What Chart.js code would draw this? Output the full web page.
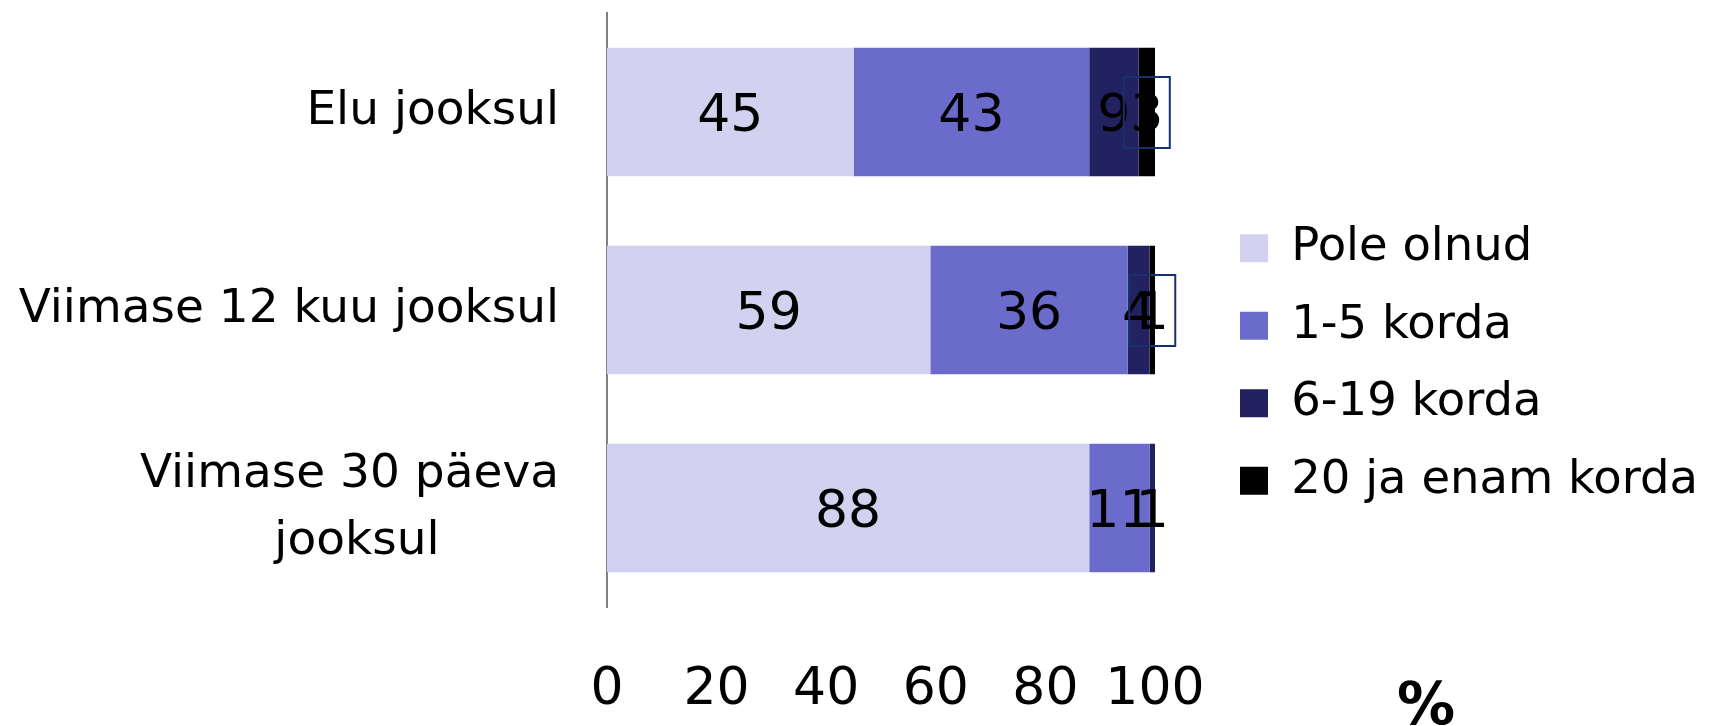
<!DOCTYPE html>
<html>
<head>
<meta charset="utf-8">
<script src="https://cdn.jsdelivr.net/npm/chart.js@4.4.1/dist/chart.umd.min.js"></script>
<style>
  html, body { margin: 0; padding: 0; background: #fff; }
  canvas { display: block; }
</style>
</head>
<body>
<canvas id="joonis" width="1709" height="726"></canvas>
<script>
// --- andmed ---
const kategooriad = ['Elu jooksul', 'Viimase 12 kuu jooksul', 'Viimase 30 päeva jooksul'];
const seeriaNimed = ['Pole olnud', '1-5 korda', '6-19 korda', '20 ja enam korda'];
const poleOlnud = [45, 59, 88];
const korda1_5 = [43, 36, 11];
const korda6_19 = [9, 4, 1];
const korda20 = [3, 1, 0];
const xTikid = [0, 20, 40, 60, 80, 100];

const varvid = ['#d2d2f0', '#6b6bcc', '#222260', '#000000'];
const FONT = '"DejaVu Sans", Verdana, sans-serif';

// pikk silt kahele reale, teine rida keskele (nbsp-ga nihutatud)
function tikiSilt(silt) {
    if (silt === 'Viimase 30 päeva jooksul') {
        return ['Viimase 30 päeva', 'jooksul' + '\u00a0'.repeat(8)];
    }
    return silt;
}

// legend paremale, vahega graafikust
const legendiPaigutus = {
    id: 'legendiPaigutus',
    beforeLayout(chart) {
        const lg = chart.legend;
        if (lg && !lg._parandatud) {
            const fit = lg.fit;
            lg.fit = function () { fit.call(this); this.width = 554; };
            lg._parandatud = true;
        }
    },
    afterLayout(chart) {
        if (chart.legend) chart.legend.left += 54;
    }
};

// väärtused ribade sisse
const vaartusSildid = {
    id: 'vaartusSildid',
    afterDatasetsDraw(chart) {
        const ctx = chart.ctx;
        ctx.save();
        ctx.font = '52px ' + FONT;
        ctx.fillStyle = '#000';
        ctx.textAlign = 'center';
        ctx.textBaseline = 'middle';
        chart.data.datasets.forEach((ds, i) => {
            const meta = chart.getDatasetMeta(i);
            meta.data.forEach((bar, j) => {
                const v = ds.data[j];
                if (!v) return;
                const cx = (bar.x + bar.base) / 2;
                ctx.fillText(String(v), cx, bar.y + 5);
                if (ds.raamiga) {
                    ctx.strokeStyle = '#17326b';
                    ctx.lineWidth = 2;
                    ctx.strokeRect(cx - 23, bar.y - 35, 46, 71);
                }
            });
        });
        ctx.restore();
    },
    afterDraw(chart) {
        const ctx = chart.ctx;
        ctx.save();
        ctx.font = 'bold 58px "Liberation Sans Narrow", ' + FONT;
        ctx.fillStyle = '#000';
        ctx.textAlign = 'center';
        ctx.textBaseline = 'alphabetic';
        ctx.fillText('%', 1426, 724);
        ctx.restore();
    }
};

const andmed = [poleOlnud, korda1_5, korda6_19, korda20];

new Chart(document.getElementById('joonis'), {
    type: 'bar',
    data: {
        labels: kategooriad,
        datasets: seeriaNimed.map((nimi, i) => ({
            label: nimi,
            data: andmed[i],
            backgroundColor: varvid[i],
            borderWidth: 0,
            barPercentage: 0.65,
            categoryPercentage: 1,
            raamiga: i === 3
        }))
    },
    options: {
        indexAxis: 'y',
        responsive: false,
        animation: false,
        layout: { padding: { top: 13, left: 0, right: 0, bottom: 10 } },
        scales: {
            x: {
                stacked: true,
                min: 0,
                max: 100,
                afterBuildTicks: s => { s.ticks = xTikid.map(v => ({ value: v })); },
                afterFit: s => { s.height = 109; },
                ticks: { color: '#000', padding: 52, font: { family: FONT, size: 52 } },
                grid: { display: false, drawTicks: false },
                border: { display: false }
            },
            y: {
                stacked: true,
                afterFit: s => { s.width = 607; s.paddingTop = 0; s.paddingBottom = 0; },
                ticks: {
                    color: '#000',
                    padding: 48,
                    font: { family: FONT, size: 47, lineHeight: 1.43 },
                    callback: function (value) { return tikiSilt(this.getLabelForValue(value)); }
                },
                grid: { display: false, drawTicks: false },
                border: { display: true, color: '#808080', width: 2 }
            }
        },
        plugins: {
            legend: {
                position: 'right',
                align: 'center',
                labels: {
                    boxWidth: 28,
                    boxHeight: 28,
                    padding: 31,
                    color: '#000',
                    font: { family: FONT, size: 46.5 }
                }
            },
            tooltip: { enabled: false }
        }
    },
    plugins: [legendiPaigutus, vaartusSildid]
});
</script>
</body>
</html>
